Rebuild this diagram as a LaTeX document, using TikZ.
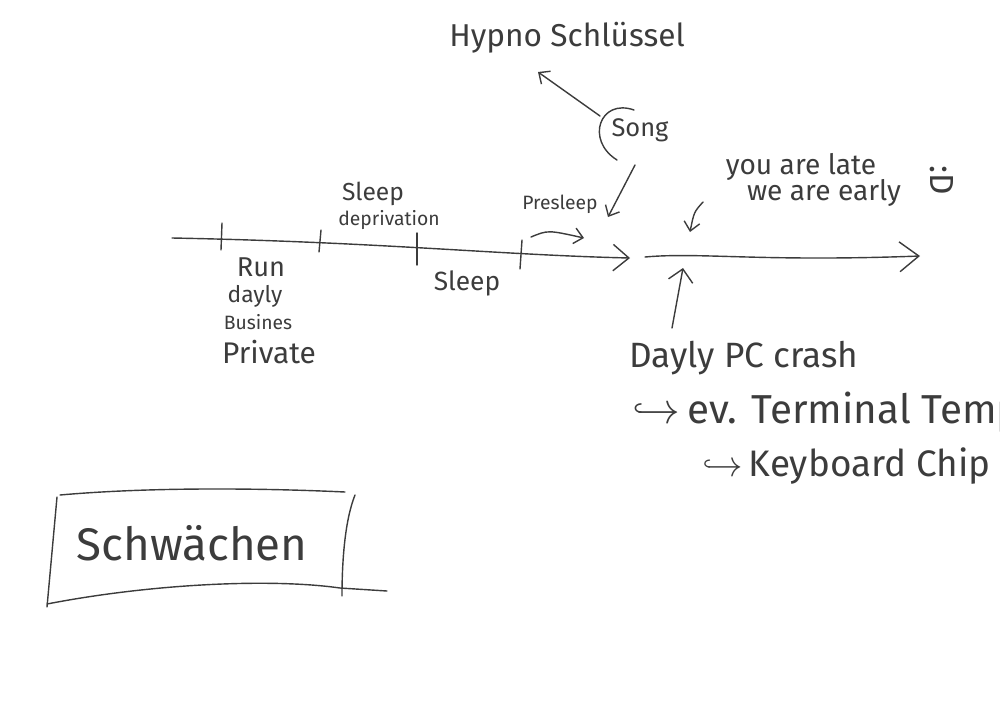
\documentclass[tikz,border=0pt]{standalone}
\usepackage{fontspec}
\setmainfont{Fira Sans}
\usetikzlibrary{arrows.meta, positioning}
\definecolor{ink}{HTML}{3C3C3C}

\begin{document}
\begin{tikzpicture}[
		x=0.02cm, y=-0.02cm,
		every node/.style={text=ink, inner sep=0pt},
		fsize/.style={font=\fontsize{#1}{#1}\selectfont},
		pen/.style={draw=ink, line width=0.8pt, line cap=round, line join=round},
		>={Straight Barb[length=5pt, width=9pt]},
		bigtip/.style={-{Straight Barb[length=11pt, width=17pt]}}
		]
		
		% Page frame
		\clip (0,0) rectangle (1000,707);
		
		% Labels round the first timeline
		\node[fsize=14] (deprA) at (373,194) {Sleep};
		\node[fsize=11] (deprB) at (389,220) {deprivation};
		\node[fsize=15.5] (run) at (261,267) {Run};
		\node[fsize=13] (dayly) at (255,296) {dayly};
		\node[fsize=11] (busines) at (258,322) {Busines};
		\node[fsize=17] (private) at (269,352) {Private};
		\node[fsize=15] (sleep) at (467,283) {Sleep};
		\node[fsize=11] (presleep) at (560,204) {Presleep};
		
		% Song and where it leads
		\node[fsize=18] (hypno) at (567,38) {Hypno Schlüssel};
		\node[fsize=14.5] (song) at (640,130) {Song};
		\node[fsize=16] (late) at (801,167) {you are late};
		\node[fsize=16] (early) at (824,193) {we are early};
		\node[fsize=19, rotate=-90] (smile) at (942,180) {:D};
		
		% Labels below the second timeline
		\node[fsize=20] (crash) at (744,358) {Dayly PC crash};
		\node[fsize=23, anchor=west] (temp) at (632,412) {$\hookrightarrow$\,ev. Terminal Temp};
		\node[fsize=21, anchor=west] (chip) at (702,466) {$\hookrightarrow$\,Keyboard Chip};
		
		% Weak points
		\node[fsize=26] (weak) at (192,543) {Schwächen};
		
		% Ends of the connectors
		\coordinate (tlA) at (172,238);
		\coordinate (tlB) at (630,258);
		\coordinate (tlC) at (645,257);
		\coordinate (tlD) at (920,256);
		\coordinate (hypnoEnd) at (538,72);
		\coordinate (songStart) at (600,116);
		\coordinate (songDown) at (635,165);
		\coordinate (presleepEnd) at (608,217);
		\coordinate (lateEnd) at (690,232);
		\coordinate (crashStart) at (672,328);
		\coordinate (crashEnd) at (683,268);
		
		% First timeline with its ticks
		\draw[pen, -{Straight Barb[length=9pt, width=15pt]}] (tlA) .. controls (380,242) and (500,255) .. (tlB);
		\draw[pen] (222,223) -- (221,250);
		\draw[pen] (321,230) -- (319,252);
		\draw[pen] (417,233) -- (417,265);
		\draw[pen] (522,240) -- (520,269);
		\draw[pen, ->] (531,237) .. controls (548,230) .. (584,238);
		
		% Second timeline
		\draw[pen, bigtip] (tlC) .. controls (700,252) and (760,262) .. (tlD);
		
		% Song
		\draw[pen] (634,110) .. controls (600,98) and (585,140) .. (617,160);
		\draw[pen, ->] (songStart) -- (hypnoEnd);
		\draw[pen, ->] (songDown) -- (presleepEnd);
		\draw[pen, ->] (703,202) .. controls (694,212) .. (lateEnd);
		\draw[pen, -{Straight Barb[length=7pt, width=14pt]}] (crashStart) -- (crashEnd);
		
		% Box round the weak points
		\draw[pen] (60,495) .. controls (150,487) and (260,488) .. (345,492);
		\draw[pen] (57,497) -- (47,607);
		\draw[pen] (47,604) .. controls (150,584) and (270,578) .. (340,588) -- (387,591);
		\draw[pen] (355,495) .. controls (345,520) and (342,560) .. (342,596);
		
	\end{tikzpicture}
\end{document}
